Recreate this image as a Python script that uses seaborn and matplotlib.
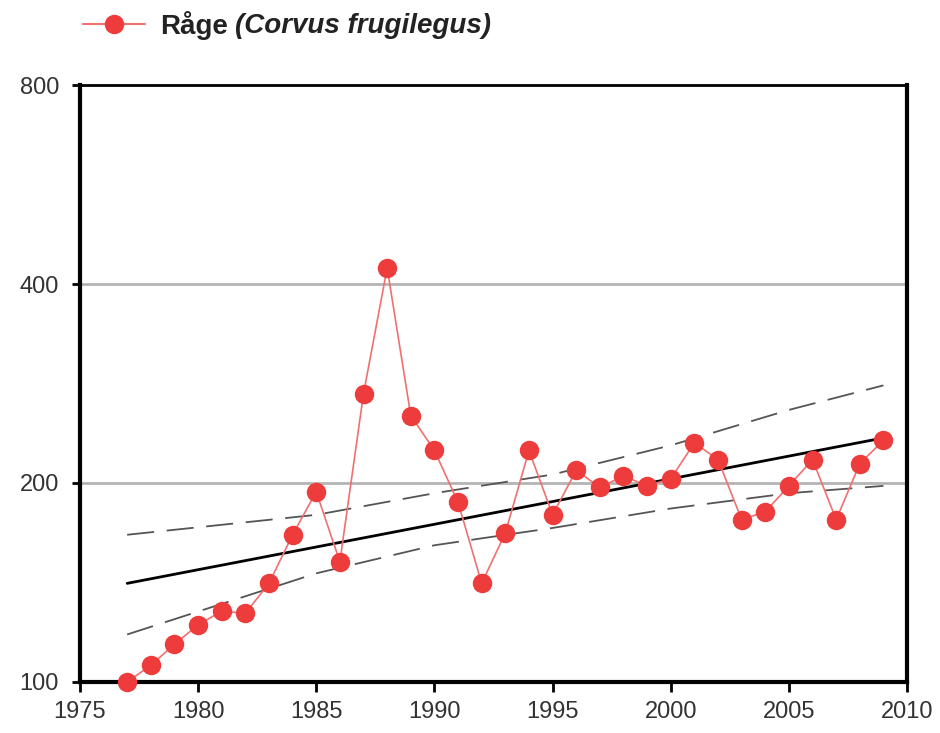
import numpy as np
import pandas as pd
import matplotlib
matplotlib.use("Agg")
import matplotlib.pyplot as plt
import matplotlib.ticker as mticker
import seaborn as sns

# Counts
years = list(range(1977, 2010))
counts = [100, 106, 114, 122, 128, 127, 141, 167, 194, 152, 273, 423, 253, 224,
          187, 141, 168, 224, 179, 209, 197, 205, 198, 203, 230, 217, 176, 181,
          198, 217, 176, 214, 232]

# Trend line and confidence band
trend_years = [1977, 2009]
trend_vals = [141, 234]
band_years = [1977, 1985, 1990, 1995, 2000, 2005, 2009]
band_upper = [167, 179, 193, 206, 228, 258, 281]
band_lower = [118, 146, 161, 171, 183, 193, 198]

df = pd.DataFrame({"year": years, "count": counts})
trend = pd.DataFrame({"year": trend_years, "value": trend_vals})
band = pd.DataFrame({"year": band_years, "upper": band_upper, "lower": band_lower})

sns.set_style("white")
plt.rcParams['font.family'] = ['Liberation Sans', 'DejaVu Sans']

fig = plt.figure(figsize=(9.4, 7.33), dpi=100)
ax = fig.add_axes([0.085, 0.0696, 0.88, 0.8144])

ax.set_yscale("log")
ax.set_xlim(1975, 2010)
ax.set_ylim(100, 800)

# grid lines at 200 and 400
for v in [200, 400]:
    ax.axhline(v, color="#b4b4b4", lw=2, zorder=0)

red = "#ee3b3b"
line_red = "#f07070"
sns.lineplot(data=band, x="year", y="upper", ax=ax, color="#555555", lw=1.3,
             linestyle=(0, (15, 7)), zorder=2)
sns.lineplot(data=band, x="year", y="lower", ax=ax, color="#555555", lw=1.3,
             linestyle=(0, (15, 7)), zorder=2)
sns.lineplot(data=trend, x="year", y="value", ax=ax, color="black", lw=2, zorder=3)
sns.lineplot(data=df, x="year", y="count", ax=ax, color=line_red, lw=1.2,
             marker="o", markersize=14, markeredgewidth=0, markerfacecolor=red,
             zorder=4, label="Råge", clip_on=False)

ax.set_xlabel("")
ax.set_ylabel("")

ax.yaxis.set_major_locator(mticker.FixedLocator([100, 200, 400, 800]))
ax.yaxis.set_major_formatter(mticker.FixedFormatter(["100", "200", "400", "800"]))
ax.yaxis.set_minor_locator(mticker.NullLocator())
ax.xaxis.set_major_locator(mticker.MultipleLocator(5))
ax.xaxis.set_minor_locator(mticker.MultipleLocator(1))

ax.tick_params(axis="both", which="major", direction="out", length=7, width=2,
               labelsize=17, color="black", labelcolor="#333333")
ax.tick_params(axis="x", which="major", pad=7)
ax.tick_params(axis="y", which="major", pad=9, length=6)
ax.tick_params(axis="x", which="minor", direction="out", length=3, width=1.5,
               color="black")
ax.tick_params(left=True, bottom=True)

for s in ["left", "bottom", "right"]:
    ax.spines[s].set_linewidth(3)
    ax.spines[s].set_color("black")
ax.spines["top"].set_linewidth(2)
ax.spines["top"].set_color("black")

# legend at top left of figure
leg = ax.legend(loc="center left", bbox_to_anchor=(0.088, 0.965),
                bbox_transform=fig.transFigure, frameon=False,
                prop={"weight": "bold", "size": 20}, handlelength=2.25,
                handletextpad=0.55, borderaxespad=0, borderpad=0)
for h in leg.legend_handles:
    h.set_markersize(14)
    h.set_linewidth(1.5)
leg.get_texts()[0].set_color("#222222")

fig.canvas.draw()
bb = leg.get_texts()[0].get_window_extent()
inv = fig.transFigure.inverted()
x1, ymid = inv.transform((bb.x1, (bb.y0 + bb.y1) / 2))
fig.text(x1 + 0.007, ymid, "(Corvus frugilegus)", fontsize=20, color="#222222",
         fontweight="bold", fontstyle="italic", va="center", ha="left")

fig.savefig("out.png", dpi=100)
